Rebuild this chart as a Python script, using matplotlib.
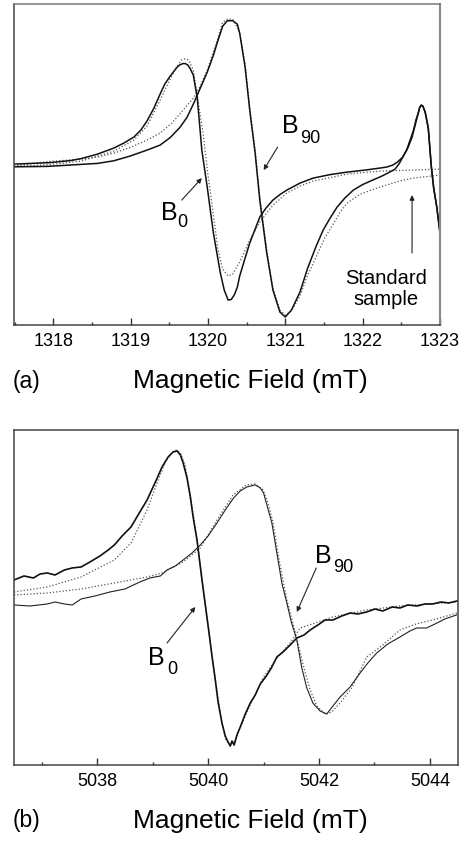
import matplotlib
matplotlib.use("Agg")
import matplotlib.pyplot as plt
from matplotlib.ticker import MultipleLocator

plt.rcParams['font.family'] = ['Liberation Sans', 'DejaVu Sans']

# ---- panel (a) : ~1321 mT ----
a_b0_x = [1317.49, 1317.96, 1318.22, 1318.36, 1318.57, 1318.78, 1318.91, 1319.04, 1319.13,
          1319.21, 1319.30, 1319.38, 1319.44, 1319.51, 1319.60, 1319.64, 1319.68, 1319.71,
          1319.74, 1319.77, 1319.81, 1319.83, 1319.86, 1319.89, 1319.92, 1319.99, 1320.07,
          1320.16, 1320.21, 1320.26, 1320.30, 1320.34, 1320.38, 1320.41, 1320.48, 1320.54,
          1320.61, 1320.67, 1320.75, 1320.84, 1320.93, 1321.02, 1321.19, 1321.36, 1321.58,
          1321.80, 1322.03, 1322.22, 1322.31, 1322.39, 1322.45, 1322.52, 1322.59, 1322.64,
          1322.68, 1322.72, 1322.74, 1322.76, 1322.78, 1322.81, 1322.85, 1322.89, 1322.92,
          1322.96, 1323.00]
a_b0_y = [0.00, 0.015, 0.035, 0.055, 0.10, 0.16, 0.21, 0.27, 0.34,
          0.43, 0.56, 0.70, 0.80, 0.88, 0.97, 0.995, 1.007, 1.005,
          0.99, 0.955, 0.89, 0.80, 0.67, 0.41, 0.14, -0.23, -0.69,
          -1.09, -1.26, -1.36, -1.355, -1.31, -1.23, -1.12, -0.94, -0.79,
          -0.65, -0.53, -0.44, -0.36, -0.305, -0.26, -0.19, -0.14, -0.105,
          -0.08, -0.06, -0.04, -0.03, -0.01, 0.02, 0.07, 0.17, 0.27,
          0.39, 0.51, 0.57, 0.59, 0.58, 0.52, 0.36, -0.03, -0.24,
          -0.43, -0.68]

a_b0_fit_x = [1317.49, 1317.96, 1318.36, 1318.78, 1319.04, 1319.21, 1319.38, 1319.51, 1319.60,
              1319.66, 1319.71, 1319.75, 1319.81, 1319.87, 1319.94, 1320.00, 1320.07, 1320.13,
              1320.19, 1320.26, 1320.32, 1320.41, 1320.54, 1320.67, 1320.84, 1321.02, 1321.19,
              1321.36, 1321.80, 1322.22, 1322.65, 1323.00]
a_b0_fit_y = [-0.025, -0.005, 0.03, 0.13, 0.24, 0.38, 0.64, 0.85, 0.98,
              1.045, 1.055, 1.04, 0.94, 0.64, 0.29, -0.11, -0.51, -0.86,
              -1.05, -1.12, -1.10, -0.98, -0.76, -0.58, -0.41, -0.29, -0.22,
              -0.17, -0.10, -0.07, -0.06, -0.05]

a_b90_x = [1317.49, 1317.92, 1318.57, 1318.78, 1318.99, 1319.21, 1319.38, 1319.51, 1319.64,
           1319.73, 1319.81, 1319.90, 1319.99, 1320.07, 1320.13, 1320.19, 1320.25, 1320.32,
           1320.38, 1320.41, 1320.48, 1320.54, 1320.61, 1320.67, 1320.76, 1320.84, 1320.93,
           1321.00, 1321.08, 1321.19, 1321.29, 1321.40, 1321.49, 1321.58, 1321.67, 1321.77,
           1321.88, 1322.00, 1322.13, 1322.25, 1322.35, 1322.42, 1322.47, 1322.52, 1322.57,
           1322.61, 1322.66, 1322.69, 1322.72, 1322.74, 1322.76, 1322.78, 1322.81, 1322.85,
           1322.89, 1322.92, 1322.96, 1323.00]
a_b90_y = [-0.027, -0.023, 0.007, 0.033, 0.08, 0.14, 0.19, 0.265, 0.37,
           0.47, 0.60, 0.76, 0.92, 1.09, 1.24, 1.38, 1.435, 1.435,
           1.40, 1.31, 0.97, 0.54, 0.11, -0.36, -0.89, -1.26, -1.48,
           -1.53, -1.46, -1.28, -1.04, -0.82, -0.66, -0.54, -0.43, -0.34,
           -0.26, -0.205, -0.16, -0.12, -0.08, -0.05, 0.00, 0.07, 0.14,
           0.23, 0.34, 0.44, 0.51, 0.57, 0.59, 0.58, 0.52, 0.36,
           -0.03, -0.24, -0.43, -0.68]

a_b90_fit_x = [1317.49, 1317.92, 1318.36, 1318.60, 1318.78, 1318.99, 1319.21, 1319.38, 1319.53,
               1319.60, 1319.70, 1319.81, 1319.90, 1319.99, 1320.12, 1320.19, 1320.25, 1320.32,
               1320.41, 1320.48, 1320.54, 1320.61, 1320.67, 1320.76, 1320.84, 1320.93, 1321.00,
               1321.08, 1321.19, 1321.29, 1321.41, 1321.51, 1321.62, 1321.71, 1321.80, 1321.97,
               1322.22, 1322.48, 1322.65, 1323.00]
a_b90_fit_y = [-0.02, 0.025, 0.05, 0.075, 0.11, 0.165, 0.24, 0.31, 0.41,
               0.47, 0.56, 0.66, 0.78, 0.94, 1.24, 1.42, 1.45, 1.45,
               1.32, 1.00, 0.57, 0.14, -0.33, -0.86, -1.24, -1.46, -1.51,
               -1.47, -1.32, -1.11, -0.91, -0.74, -0.60, -0.48, -0.39, -0.30,
               -0.23, -0.17, -0.14, -0.11]

# ---- panel (b) : ~5040 mT ----
b_b0_x = [5036.50, 5036.68, 5036.85, 5036.97, 5037.10, 5037.24, 5037.41, 5037.55, 5037.71,
          5037.87, 5038.05, 5038.20, 5038.31, 5038.45, 5038.61, 5038.77, 5038.90, 5039.05,
          5039.17, 5039.28, 5039.37, 5039.44, 5039.50, 5039.55, 5039.62, 5039.68, 5039.73,
          5039.80, 5039.89, 5039.95, 5040.01, 5040.07, 5040.13, 5040.18, 5040.25, 5040.31,
          5040.36, 5040.40, 5040.43, 5040.47, 5040.52, 5040.58, 5040.67, 5040.76, 5040.85,
          5040.94, 5041.05, 5041.14, 5041.24, 5041.35, 5041.48, 5041.60, 5041.73, 5041.84,
          5041.98, 5042.11, 5042.25, 5042.41, 5042.56, 5042.70, 5042.86, 5043.01, 5043.15,
          5043.32, 5043.46, 5043.60, 5043.77, 5043.91, 5044.05, 5044.20, 5044.34, 5044.49]
b_b0_y = [0.20, 0.24, 0.22, 0.26, 0.27, 0.25, 0.30, 0.32, 0.33,
          0.38, 0.44, 0.50, 0.55, 0.64, 0.73, 0.88, 1.00, 1.18,
          1.33, 1.43, 1.48, 1.49, 1.45, 1.37, 1.22, 1.03, 0.83,
          0.60, 0.20, -0.05, -0.30, -0.56, -0.80, -1.02, -1.23, -1.36,
          -1.42, -1.46, -1.41, -1.45, -1.35, -1.27, -1.14, -1.03, -0.95,
          -0.84, -0.76, -0.68, -0.57, -0.52, -0.45, -0.38, -0.35, -0.30,
          -0.25, -0.20, -0.20, -0.16, -0.13, -0.14, -0.12, -0.09, -0.11,
          -0.07, -0.08, -0.05, -0.06, -0.04, -0.04, -0.02, -0.03, -0.01]

b_b0_fit_x = [5036.50, 5037.10, 5037.71, 5038.31, 5038.61, 5038.90, 5039.08, 5039.23, 5039.35,
              5039.44, 5039.51, 5039.59, 5039.68, 5039.80, 5039.89, 5040.01, 5040.13, 5040.25,
              5040.32, 5040.40, 5040.49, 5040.58, 5040.76, 5040.99, 5041.24, 5041.48, 5041.66,
              5042.25, 5042.86, 5043.46, 5044.49]
b_b0_fit_y = [0.08, 0.13, 0.23, 0.40, 0.57, 0.90, 1.17, 1.38, 1.48,
              1.50, 1.46, 1.34, 1.04, 0.60, 0.20, -0.30, -0.80, -1.23,
              -1.40, -1.45, -1.40, -1.27, -1.05, -0.78, -0.58, -0.43, -0.28,
              -0.17, -0.10, -0.06, -0.02]

b_b90_x = [5036.50, 5036.79, 5037.10, 5037.24, 5037.41, 5037.55, 5037.71, 5037.96, 5038.23,
           5038.50, 5038.77, 5038.95, 5039.14, 5039.26, 5039.41, 5039.55, 5039.71, 5039.86,
           5040.00, 5040.16, 5040.31, 5040.46, 5040.58, 5040.70, 5040.85, 5040.94, 5041.00,
           5041.06, 5041.15, 5041.21, 5041.27, 5041.33, 5041.42, 5041.50, 5041.60, 5041.69,
           5041.78, 5041.89, 5042.02, 5042.14, 5042.25, 5042.38, 5042.56, 5042.74, 5042.88,
           5043.04, 5043.24, 5043.46, 5043.64, 5043.76, 5043.94, 5044.09, 5044.27, 5044.48]
b_b90_y = [-0.05, -0.06, -0.04, -0.02, -0.04, -0.05, 0.01, 0.04, 0.08,
           0.11, 0.18, 0.22, 0.24, 0.30, 0.34, 0.40, 0.47, 0.55,
           0.64, 0.77, 0.90, 1.02, 1.09, 1.13, 1.15, 1.12, 1.07,
           0.95, 0.77, 0.57, 0.37, 0.17, -0.03, -0.22, -0.40, -0.68,
           -0.88, -1.03, -1.11, -1.14, -1.06, -0.97, -0.87, -0.73, -0.63,
           -0.53, -0.44, -0.37, -0.31, -0.28, -0.28, -0.24, -0.19, -0.15]

b_b90_fit_x = [5036.50, 5037.10, 5037.71, 5038.31, 5038.90, 5039.17, 5039.55, 5039.86, 5040.16,
               5040.45, 5040.69, 5040.85, 5040.99, 5041.08, 5041.17, 5041.28, 5041.42, 5041.57,
               5041.71, 5041.84, 5041.96, 5042.11, 5042.23, 5042.38, 5042.59, 5042.86, 5043.15,
               5043.46, 5043.75, 5044.05, 5044.49]
b_b90_fit_y = [0.05, 0.07, 0.11, 0.17, 0.23, 0.27, 0.38, 0.52, 0.80,
               1.05, 1.15, 1.16, 1.10, 0.97, 0.78, 0.40, 0.00, -0.32,
               -0.64, -0.90, -1.06, -1.14, -1.12, -1.03, -0.88, -0.57, -0.45,
               -0.30, -0.24, -0.20, -0.13]

tick_a = [1318, 1319, 1320, 1321, 1322, 1323]
tick_b = [5038, 5040, 5042, 5044]

fig = plt.figure(figsize=(4.68, 8.42), dpi=100)
ax1 = fig.add_axes([0.0299, 0.614, 0.910, 0.381])
ax2 = fig.add_axes([0.0299, 0.0914, 0.948, 0.398])

dot = (0, (1, 1.6))
ax1.plot(a_b0_fit_x, a_b0_fit_y, color='#555555', lw=0.9, ls=dot)
ax1.plot(a_b90_fit_x, a_b90_fit_y, color='#555555', lw=0.9, ls=dot)
ax1.plot(a_b0_x, a_b0_y, color='#111111', lw=1.1)
ax1.plot(a_b90_x, a_b90_y, color='#111111', lw=1.1)

ax2.plot(b_b0_fit_x, b_b0_fit_y, color='#555555', lw=0.9, ls=dot)
ax2.plot(b_b90_fit_x, b_b90_fit_y, color='#555555', lw=0.9, ls=dot)
ax2.plot(b_b0_x, b_b0_y, color='#111111', lw=1.2)
ax2.plot(b_b90_x, b_b90_y, color='#222222', lw=0.8)

ax1.set_xlim(1317.49, 1323.0)
ax1.set_ylim(-1.61, 1.60)
ax2.set_xlim(5036.5, 5044.5)
ax2.set_ylim(-1.65, 1.70)
ax1.set_xticks(tick_a)
ax2.set_xticks(tick_b)
ax1.xaxis.set_minor_locator(MultipleLocator(0.5))
ax2.xaxis.set_minor_locator(MultipleLocator(1))

for ax in (ax1, ax2):
    ax.set_yticks([])
    ax.tick_params(axis='x', which='major', direction='in', length=5, width=1,
                   labelsize=13, pad=6, color='#333333')
    ax.tick_params(axis='x', which='minor', direction='in', length=2.5, width=1,
                   color='#333333')
    for s in ax.spines.values():
        s.set_color('#444444')
        s.set_linewidth(1.1)
ax1.spines['top'].set_color('#777777')
ax1.spines['right'].set_color('#888888')
ax1.spines['right'].set_linewidth(1.5)

# labels panel a
ax1.text(1319.50, -0.485, 'B', fontsize=18, ha='center', va='center')
ax1.text(1319.67, -0.585, '0', fontsize=13, ha='center', va='center')
ax1.text(1321.07, 0.38, 'B', fontsize=18, ha='center', va='center')
ax1.text(1321.32, 0.26, '90', fontsize=13, ha='center', va='center')
arr = dict(arrowstyle='-|>', color='#222222', lw=0.8, mutation_scale=7, shrinkA=0, shrinkB=0)
ax1.annotate('', xy=(1319.92, -0.14), xytext=(1319.66, -0.36), arrowprops=arr)
ax1.annotate('', xy=(1320.72, -0.06), xytext=(1320.90, 0.17), arrowprops=arr)
ax1.annotate('', xy=(1322.64, -0.31), xytext=(1322.64, -0.89), arrowprops=arr)
ax1.text(1322.30, -1.25, 'Standard\nsample', fontsize=14.5, ha='center', va='center',
         linespacing=1.15)

# labels panel b
ax2.text(5039.07, -0.575, 'B', fontsize=18, ha='center', va='center')
ax2.text(5039.35, -0.69, '0', fontsize=13, ha='center', va='center')
ax2.text(5042.08, 0.435, 'B', fontsize=18, ha='center', va='center')
ax2.text(5042.44, 0.325, '90', fontsize=13, ha='center', va='center')
ax2.annotate('', xy=(5039.77, -0.07), xytext=(5039.26, -0.43), arrowprops=arr)
ax2.annotate('', xy=(5041.60, -0.12), xytext=(5041.95, 0.32), arrowprops=arr)

fig.text(13 / 468, 1 - 381 / 842, '(a)', fontsize=16.5, ha='left', va='center')
fig.text(250 / 468, 1 - 381 / 842, 'Magnetic Field (mT)', fontsize=19, ha='center', va='center')
fig.text(13 / 468, 1 - 821 / 842, '(b)', fontsize=16.5, ha='left', va='center')
fig.text(250 / 468, 1 - 821 / 842, 'Magnetic Field (mT)', fontsize=19, ha='center', va='center')

plt.savefig('out.png', dpi=100)
